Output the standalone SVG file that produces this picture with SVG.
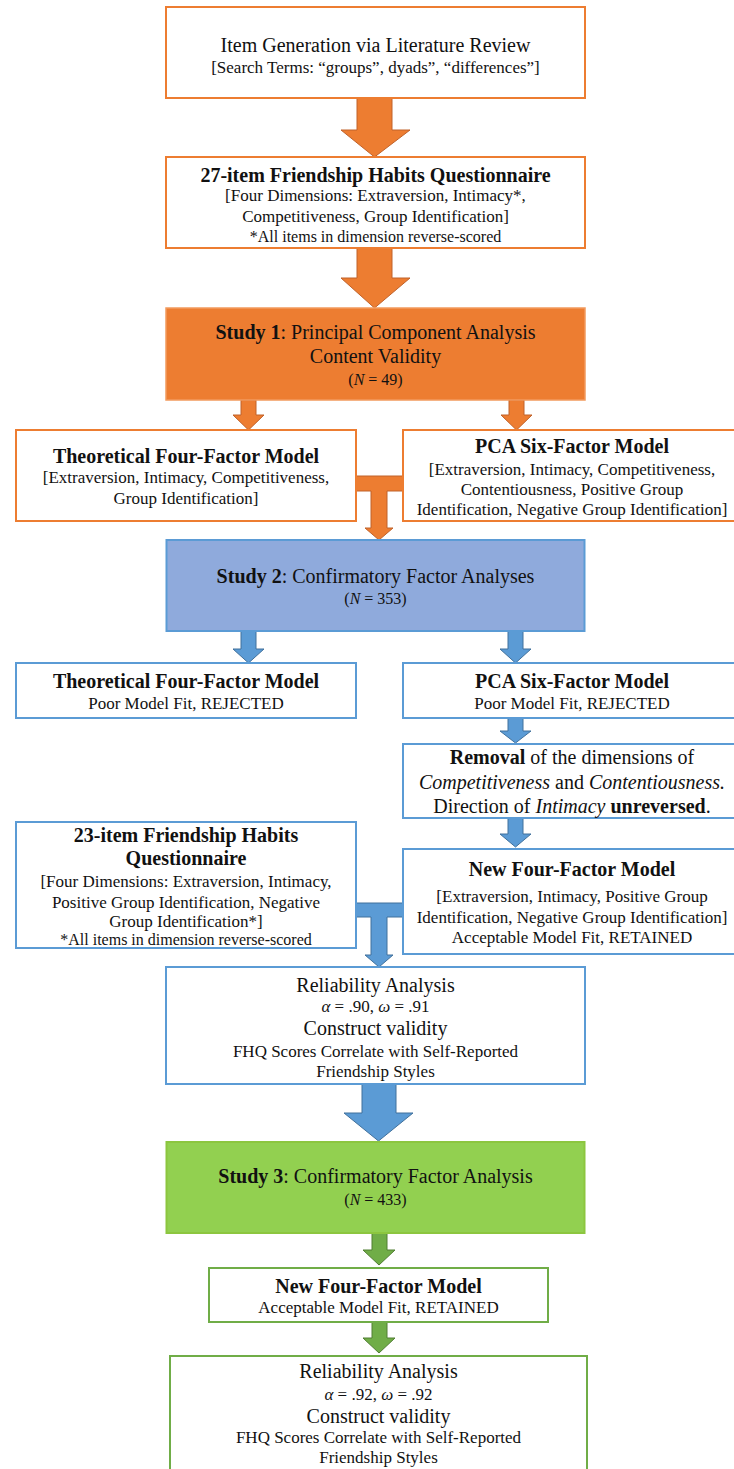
<svg xmlns="http://www.w3.org/2000/svg" width="734" height="1469" viewBox="0 0 734 1469">
<style>
text{font-family:"Liberation Serif","Times New Roman",serif;fill:#111;text-anchor:middle}
.t{font-size:20px}
.b{font-weight:bold}
.s{font-size:17px}
.xs{font-size:16px}
.i{font-style:italic}
.bo{fill:#fff;stroke:#ED7D31;stroke-width:2}
.bb{fill:#fff;stroke:#5B9BD5;stroke-width:2}
.bg{fill:#fff;stroke:#70AD47;stroke-width:2}
.ao{fill:#ED7D31;stroke:#C0622A;stroke-width:1}
.ab{fill:#5B9BD5;stroke:#41719C;stroke-width:1}
.ag{fill:#70AD47;stroke:#507E32;stroke-width:1}
</style>
<rect width="734" height="1469" fill="#fff"/>
<g id="connectors">
<polygon class="ao" points="357,98 392,98 392,130 410,130 374.5,157 341,130 357,130"/>
<polygon class="ao" points="357,248 392,248 392,278 410,278 374.5,308 341,278 357,278"/>
<polygon class="ao" points="241,400 256,400 256,415 264,415 248.5,430 233,415 241,415"/>
<polygon class="ao" points="509,400 524,400 524,415 532,415 516.5,430 501,415 509,415"/>
<polygon class="ao" points="356,476 403,476 403,491 387,491 387,528 393,528 379,540 365,528 371,528 371,491 356,491"/>
<polygon class="ab" points="241,631 256,631 256,649 264,649 248.5,663 233,649 241,649"/>
<polygon class="ab" points="508,631 523,631 523,649 531,649 515.5,663 500,649 508,649"/>
<polygon class="ab" points="508,718 523,718 523,731 531,731 515.5,743 500,731 508,731"/>
<polygon class="ab" points="508,818 523,818 523,834 531,834 515.5,847 500,834 508,834"/>
<polygon class="ab" points="356,903 403,903 403,917 387,917 387,955 393,955 379,967 365,955 371,955 371,917 356,917"/>
<polygon class="ab" points="362,1084 396,1084 396,1113 413,1113 378.5,1141 344,1113 362,1113"/>
<polygon class="ag" points="372,1233 387,1233 387,1250 395,1250 379,1265 363,1250 372,1250"/>
<polygon class="ag" points="372,1322 387,1322 387,1338 395,1338 379,1353 363,1338 372,1338"/>
</g>
<g id="item-generation">
<rect class="bo" x="166" y="7" width="419" height="91"/>
<text class="t" x="375.5" y="52">Item Generation via Literature Review</text>
<text class="s" x="375.5" y="73">[Search Terms: “groups”, dyads”, “differences”]</text>
</g>
<g id="fhq27">
<rect class="bo" x="166" y="157" width="419" height="91"/>
<text class="t b" x="375.5" y="182">27-item Friendship Habits Questionnaire</text>
<text class="s" x="375.5" y="201">[Four Dimensions: Extraversion, Intimacy*,</text>
<text class="s" x="375.5" y="222">Competitiveness, Group Identification]</text>
<text class="xs" x="375.5" y="242">*All items in dimension reverse-scored</text>
</g>
<g id="study1">
<rect x="166" y="308" width="419" height="92" fill="#ED7D31" stroke="#F29A5E" stroke-width="1.5"/>
<text class="t" x="375.5" y="339"><tspan class="b">Study 1</tspan>: Principal Component Analysis</text>
<text class="t" x="375.5" y="363">Content Validity</text>
<text class="xs" x="375.5" y="385">(<tspan class="i">N</tspan> = 49)</text>
</g>
<g id="theoretical1">
<rect class="bo" x="16" y="430" width="340" height="91"/>
<text class="t b" x="186" y="463">Theoretical Four-Factor Model</text>
<text class="s" x="186" y="483">[Extraversion, Intimacy, Competitiveness,</text>
<text class="s" x="186" y="504">Group Identification]</text>
</g>
<g id="pca1">
<rect class="bo" x="403" y="430" width="340" height="91"/>
<text class="t b" x="572" y="453">PCA Six-Factor Model</text>
<text class="s" x="572" y="475">[Extraversion, Intimacy, Competitiveness,</text>
<text class="s" x="572" y="495">Contentiousness, Positive Group</text>
<text class="s" x="572" y="515">Identification, Negative Group Identification]</text>
</g>
<g id="study2">
<rect x="166.5" y="540" width="418" height="91" fill="#8FAADC" stroke="#5B9BD5" stroke-width="2"/>
<text class="t" x="375.5" y="583"><tspan class="b">Study 2</tspan>: Confirmatory Factor Analyses</text>
<text class="xs" x="375.5" y="604">(<tspan class="i">N</tspan> = 353)</text>
</g>
<g id="theoretical2">
<rect class="bb" x="16" y="663" width="340" height="55"/>
<text class="t b" x="186" y="688">Theoretical Four-Factor Model</text>
<text class="s" x="186" y="709">Poor Model Fit, REJECTED</text>
</g>
<g id="pca2">
<rect class="bb" x="403" y="663" width="340" height="55"/>
<text class="t b" x="572" y="688">PCA Six-Factor Model</text>
<text class="s" x="572" y="709">Poor Model Fit, REJECTED</text>
</g>
<g id="removal">
<rect class="bb" x="403" y="744" width="340" height="74"/>
<text class="t" x="572" y="764"><tspan class="b">Removal</tspan> of the dimensions of</text>
<text class="t" x="572" y="789"><tspan class="i">Competitiveness</tspan> and <tspan class="i">Contentiousness.</tspan></text>
<text class="t" x="572" y="813">Direction of <tspan class="i">Intimacy</tspan> <tspan class="b">unreversed</tspan>.</text>
</g>
<g id="fhq23">
<rect class="bb" x="16" y="822" width="340" height="126"/>
<text class="t b" x="186" y="842">23-item Friendship Habits</text>
<text class="t b" x="186" y="865">Questionnaire</text>
<text class="s" x="186" y="887">[Four Dimensions: Extraversion, Intimacy,</text>
<text class="s" x="186" y="908">Positive Group Identification, Negative</text>
<text class="s" x="186" y="927">Group Identification*]</text>
<text class="xs" x="186" y="945">*All items in dimension reverse-scored</text>
</g>
<g id="newfour2">
<rect class="bb" x="403" y="849" width="340" height="105"/>
<text class="t b" x="572" y="876">New Four-Factor Model</text>
<text class="s" x="572" y="902">[Extraversion, Intimacy, Positive Group</text>
<text class="s" x="572" y="923">Identification, Negative Group Identification]</text>
<text class="s" x="572" y="943">Acceptable Model Fit, RETAINED</text>
</g>
<g id="reliability2">
<rect class="bb" x="166" y="967" width="419" height="117"/>
<text class="t" x="375.5" y="992">Reliability Analysis</text>
<text class="s" x="375.5" y="1012"><tspan class="i">α</tspan> = .90, <tspan class="i">ω</tspan> = .91</text>
<text class="t" x="375.5" y="1035">Construct validity</text>
<text class="s" x="375.5" y="1057">FHQ Scores Correlate with Self-Reported</text>
<text class="s" x="375.5" y="1077">Friendship Styles</text>
</g>
<g id="study3">
<rect x="166.5" y="1142" width="418" height="91" fill="#92D050" stroke="#8CC63F" stroke-width="2"/>
<text class="t" x="375.5" y="1183"><tspan class="b">Study 3</tspan>: Confirmatory Factor Analysis</text>
<text class="xs" x="375.5" y="1205">(<tspan class="i">N</tspan> = 433)</text>
</g>
<g id="newfour3">
<rect class="bg" x="209" y="1268" width="339" height="54"/>
<text class="t b" x="378.5" y="1293">New Four-Factor Model</text>
<text class="s" x="378.5" y="1313">Acceptable Model Fit, RETAINED</text>
</g>
<g id="reliability3">
<rect class="bg" x="170" y="1356" width="417" height="120"/>
<text class="t" x="378.5" y="1378">Reliability Analysis</text>
<text class="s" x="378.5" y="1400"><tspan class="i">α</tspan> = .92, <tspan class="i">ω</tspan> = .92</text>
<text class="t" x="378.5" y="1423">Construct validity</text>
<text class="s" x="378.5" y="1443">FHQ Scores Correlate with Self-Reported</text>
<text class="s" x="378.5" y="1463">Friendship Styles</text>
</g>
</svg>
